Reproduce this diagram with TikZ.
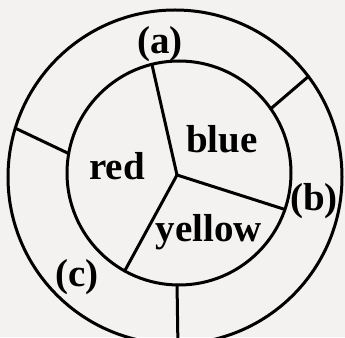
\documentclass[tikz,border=0pt]{standalone}
\usepackage{fontspec}
\setmainfont{Liberation Serif}
\usetikzlibrary{calc}
\definecolor{paper}{RGB}{243, 242, 240}

\begin{document}
\begin{tikzpicture}[
  x=1pt, y=1pt,
  ring/.style = {line width=3pt, black, line cap=round},
  lab/.style = {font=\fontsize{39}{41}\selectfont\bfseries, inner sep=0pt}
]
\useasboundingbox (0,0) rectangle (345,337);
\fill[paper] (0,0) rectangle (345,337);
\clip (0,0) rectangle (345,337);
\coordinate (oc) at (175,160);
\coordinate (ic) at (179,164);
\coordinate (hub) at (177,162);
% the two circles
\draw[ring] (oc) circle[radius=167];
\draw[ring] (ic) circle[radius=112];
% inner sectors
\coordinate (top)   at ($(ic)+(104:112)$);
\coordinate (right) at ($(ic)+(-19:112)$);
\coordinate (low)   at ($(ic)+(241:112)$);
\draw[ring] (hub) -- (top);
\draw[ring] (hub) -- (right);
\draw[ring] (hub) -- (low);
% ring dividers
\coordinate (ur1) at ($(ic)+(35:112)$);
\coordinate (ur2) at ($(oc)+(37:167)$);
\coordinate (le1) at ($(ic)+(170:112)$);
\coordinate (le2) at ($(oc)+(163:167)$);
\coordinate (bo1) at ($(ic)+(-91:112)$);
\coordinate (bo2) at ($(oc)+(-89:167)$);
\draw[ring] (ur1) -- (ur2);
\draw[ring] (le1) -- (le2);
\draw[ring] (bo1) -- (bo2);
% labels
\node[lab] (la) at (160,293) {(a)};
\node[lab] (lb) at (314,136) {(b)};
\node[lab] (lc) at (77,60)   {(c)};
\node[lab, anchor=base] (blue)   at (222,184) {blue};
\node[lab, anchor=base] (red)    at (117,157) {red};
\node[lab, anchor=base] (yellow) at (209,95)  {yellow};
\end{tikzpicture}
\end{document}
